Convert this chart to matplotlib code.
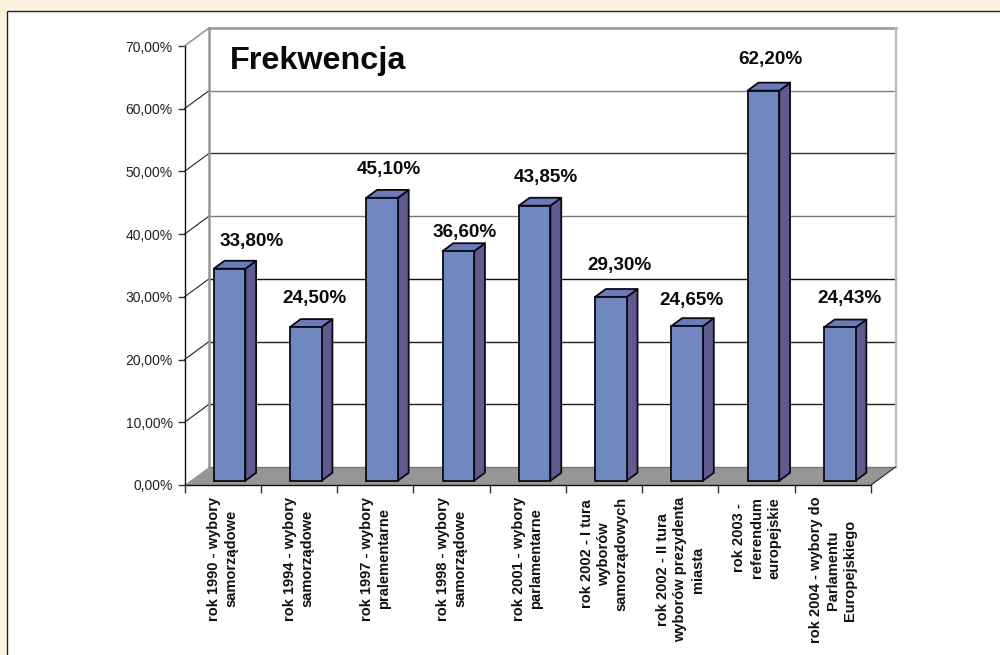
import matplotlib
matplotlib.use("Agg")
import matplotlib.pyplot as plt
from matplotlib.patches import Rectangle
from matplotlib.transforms import Affine2D

categories = [
    "rok 1990 - wybory\nsamorządowe",
    "rok 1994 - wybory\nsamorządowe",
    "rok 1997 - wybory\npralementarne",
    "rok 1998 - wybory\nsamorządowe",
    "rok 2001 - wybory\nparlamentarne",
    "rok 2002 - I tura\nwyborów\nsamorządowych",
    "rok 2002 - II tura\nwyborów prezydenta\nmiasta",
    "rok 2003 -\nreferendum\neuropejskie",
    "rok 2004 - wybory do\nParlamentu\nEuropejskiego",
]
turnout = [33.80, 24.50, 45.10, 36.60, 43.85, 29.30, 24.65, 62.20, 24.43]
value_labels = ["33,80%", "24,50%", "45,10%", "36,60%", "43,85%", "29,30%", "24,65%", "62,20%", "24,43%"]
y_levels = [0, 10, 20, 30, 40, 50, 60, 70]
title = "Frekwencja"

# layout (pixels)
W, H = 1000, 655
L, R, B, T = 184.5, 871.0, 485.0, 46.0
DX_PX, DY_PX = 24.5, 18.0
label_dx = [22, 9, 7, 6, 11, 9, 4, 7, 10]
label_dy = [27, 29, 28, 19, 28, 31, 26, 31, 29]
grid_colors = {10: "#222222", 20: "#222222", 30: "#111111", 40: "#777777", 50: "#333333", 60: "#808080"}

plt.rcParams["font.family"] = ["Liberation Sans", "DejaVu Sans"]
CREAM, FRONT, SIDE, TOP, FLOOR, WALL = "#FBF3DD", "#7087BF", "#5F5A8F", "#6C7ABA", "#969696", "#969696"

fig = plt.figure(figsize=(W / 100, H / 100), dpi=100, facecolor=CREAM)
fig.add_artist(Rectangle((6.5 / W, -0.02), 1.1, (H - 11) / H + 0.02, transform=fig.transFigure,
                         facecolor="white", edgecolor="#222222", linewidth=1.0, zorder=-1))

ax = fig.add_axes([L / W, (H - B) / H, (R - L) / W, (B - T) / H])
ax.set_xlim(0, 9)
ax.set_ylim(0, 70)
ax.patch.set_visible(False)
for s in ("top", "right"):
    ax.spines[s].set_visible(False)
for s in ("left", "bottom"):
    ax.spines[s].set_linewidth(1.0)
    ax.spines[s].set_color("#111111")
    ax.spines[s].set_zorder(6)

px_x = 9 / (R - L)
px_y = 70 / (B - T)
dx, dy = DX_PX * px_x, DY_PX * px_y


def depth(x, y, d):
    return x + d * dx, y + d * dy


# floor
ax.fill([0, 9, 9 + dx, dx], [0, 0, dy, dy], color=FLOOR, lw=0, zorder=1, clip_on=False)

# back grid and left wall diagonals
for lv in y_levels[1:-1]:
    x0, y0 = depth(0, lv, 1)
    x1, y1 = depth(9, lv, 1)
    ax.plot([x0, x1], [y0, y1], color=grid_colors[lv], lw=1.0, zorder=2, clip_on=False)
    ax.plot([0, x0], [lv, y0], color="#222222", lw=0.8, zorder=2, clip_on=False)

# walls
xa, ya = depth(0, 0, 1)
xb, yb = depth(0, 70, 1)
xc, yc = depth(9, 70, 1)
xd, yd = depth(9, 0, 1)
ax.plot([xa, xb], [ya, yb], color=WALL, lw=1.8, zorder=2.5, clip_on=False)
ax.plot([xb, xc], [yb, yc], color=WALL, lw=1.8, zorder=2.5, clip_on=False)
ax.plot([xc, xd], [yc, yd], color="#BBBBBB", lw=1.6, zorder=2.5, clip_on=False)
ax.plot([0, xb], [70, yb], color=WALL, lw=1.2, zorder=2.5, clip_on=False)
ax.plot([9, xd], [0, yd], color="#222222", lw=0.8, zorder=2.5, clip_on=False)
ax.plot([xa, xd], [ya, yd], color="#777777", lw=1.0, zorder=1.5, clip_on=False)

# bars
D0, D1 = 0.24, 0.68
BW = 0.415
centers = [i + 0.5 for i in range(len(turnout))]
front_x = [c + D0 * dx + 1.0 * px_x for c in centers]
base = D0 * dy
ax.bar(front_x, turnout, BW, bottom=base, color=FRONT, edgecolor="#0A0A14", linewidth=1.3, zorder=4, clip_on=False)
gap_d = (D1 - D0)
for fx, v in zip(front_x, turnout):
    xl, xr = fx - BW / 2, fx + BW / 2
    top = base + v
    ox, oy = gap_d * dx, gap_d * dy
    ax.fill([xr, xr + ox, xr + ox, xr], [base, base + oy, top + oy, top], facecolor=SIDE,
            edgecolor="#0A0A14", lw=1.3, zorder=3.8, clip_on=False, joinstyle="round")
    ax.fill([xl, xr, xr + ox, xl + ox], [top, top, top + oy, top + oy], facecolor=TOP,
            edgecolor="#0A0A14", lw=1.3, zorder=3.8, clip_on=False, joinstyle="round")

# value labels
for fx, v, txt, ldx, ldy in zip(front_x, turnout, value_labels, label_dx, label_dy):
    ax.annotate(txt, (fx, base + v), xytext=(ldx * 0.72, ldy * 0.72), textcoords="offset points",
                ha="center", va="center", fontsize=13.6, fontweight="bold", color="#0A0A0A",
                zorder=7, annotation_clip=False)

# ticks
ax.set_yticks(y_levels)
ax.set_yticklabels([f"{v},00%" for v in y_levels], fontsize=10, color="#222222")
ax.set_xticks(range(10))
ax.set_xticklabels([])
ax.set_xticks(centers, minor=True)
ax.set_xticklabels(categories, minor=True, rotation=90, ha="center", va="top", fontsize=10.5,
                   fontweight="bold", linespacing=1.3, multialignment="center", color="#111111")
for lab in ax.get_xticklabels(minor=True):
    lab.set_transform(lab.get_transform() + Affine2D().translate(1, 0))
ax.tick_params(axis="y", length=5.4, width=1.0, color="#333333", pad=3)
ax.tick_params(axis="x", which="major", length=5.4, width=1.0, color="#333333")
ax.tick_params(axis="x", which="minor", length=0, pad=8.5)

# title placed with the axes scale
ax.text(depth(0, 0, 1)[0] + 21 * px_x, 70 - 15 * px_y, title, fontsize=23.3, fontweight="bold",
        color="#0A0A0A", ha="left", va="center", zorder=7)

fig.savefig("out.png", dpi=100, facecolor=CREAM)
